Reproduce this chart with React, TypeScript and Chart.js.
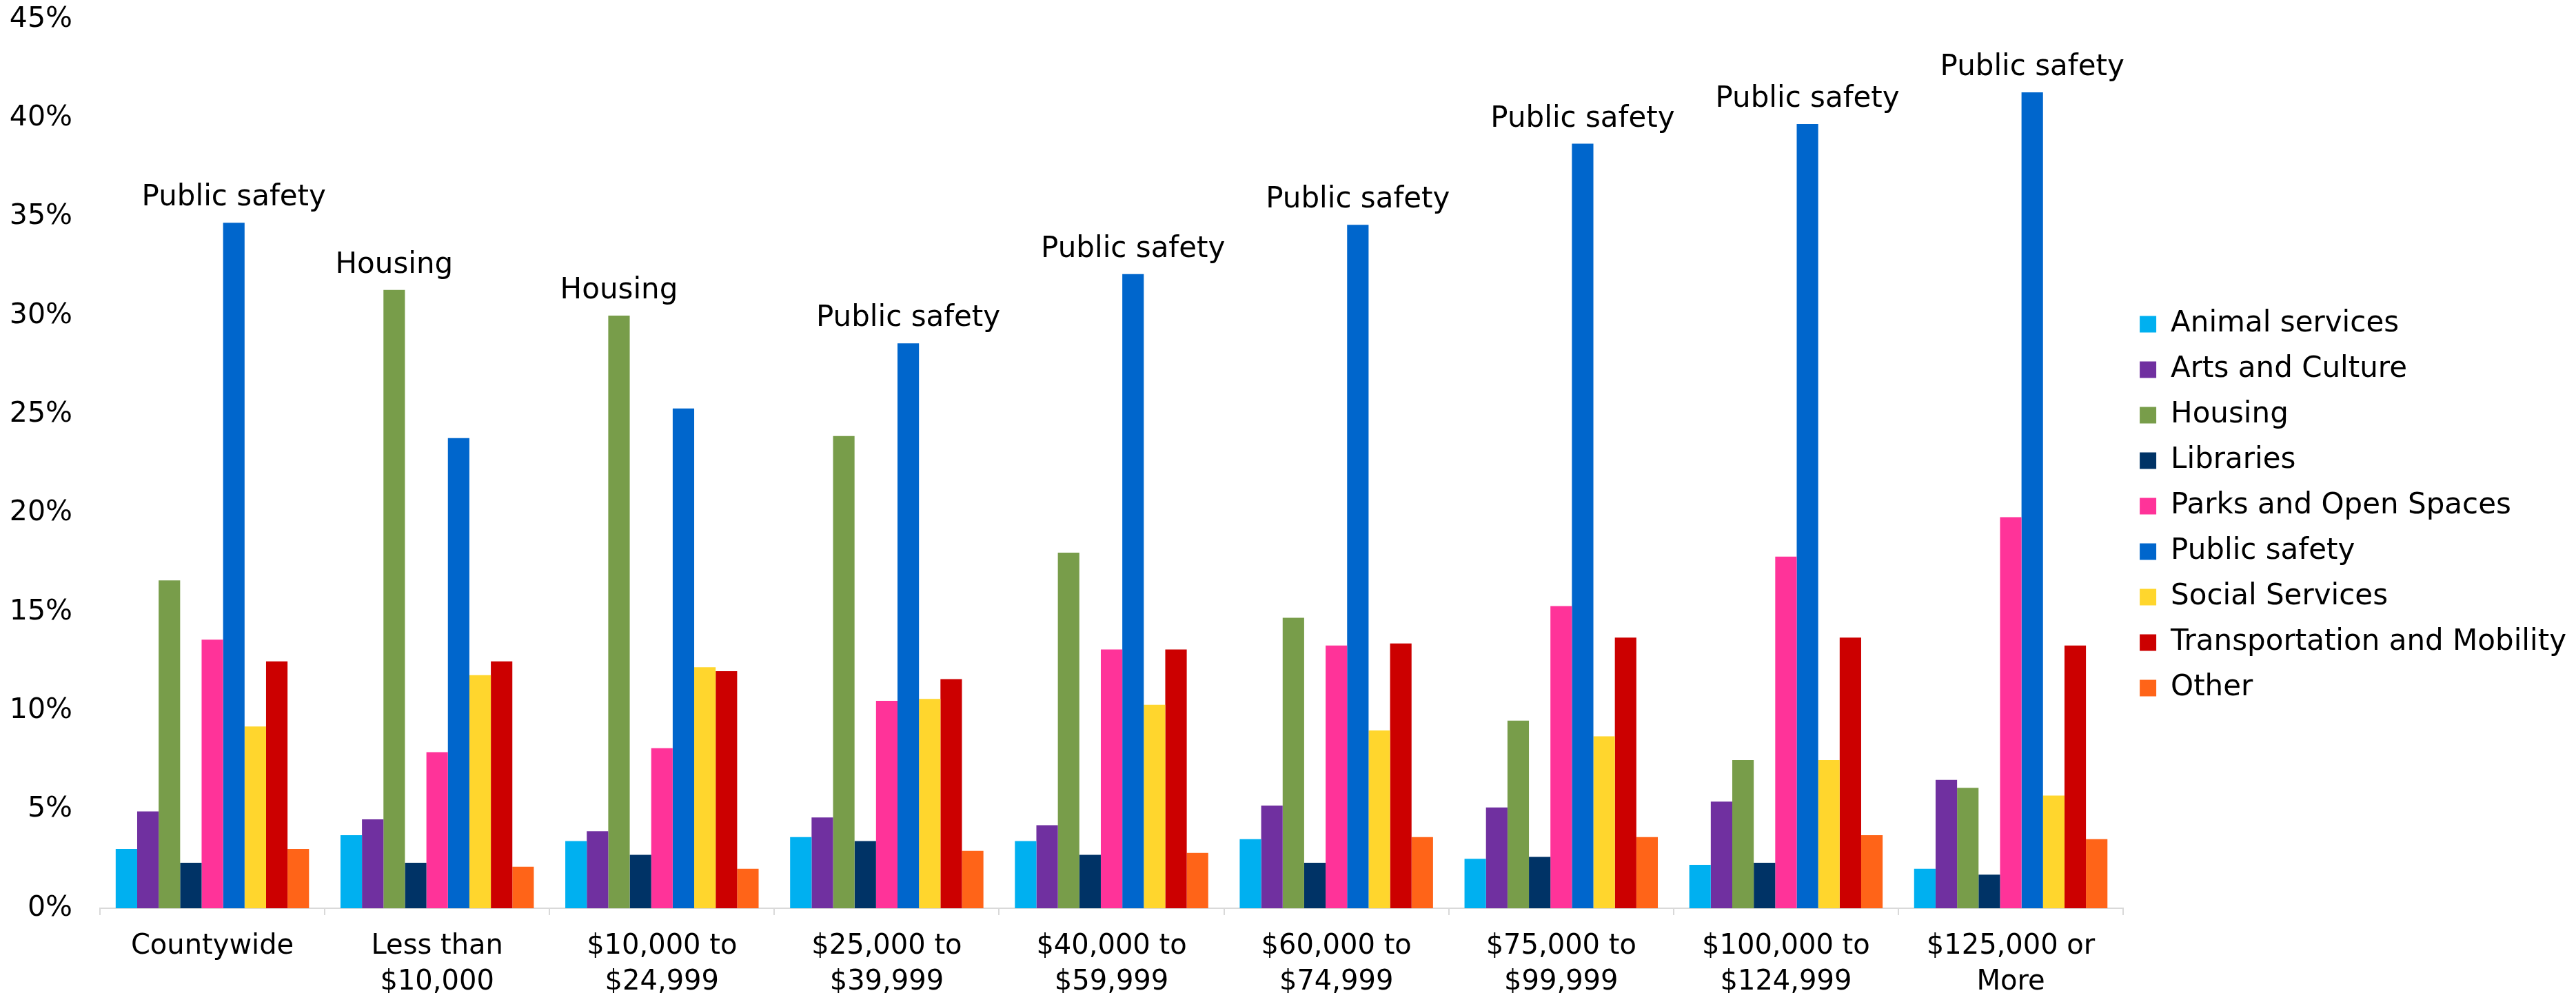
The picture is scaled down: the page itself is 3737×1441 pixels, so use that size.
import React, { useEffect, useRef } from "react";
import { Chart, registerables } from "chart.js";

Chart.register(...registerables);

const categories: string[][] = [
  ["Countywide"],
  ["Less than", "$10,000"],
  ["$10,000 to", "$24,999"],
  ["$25,000 to", "$39,999"],
  ["$40,000 to", "$59,999"],
  ["$60,000 to", "$74,999"],
  ["$75,000 to", "$99,999"],
  ["$100,000 to", "$124,999"],
  ["$125,000 or", "More"],
];

const seriesNames = [
  "Animal services",
  "Arts and Culture",
  "Housing",
  "Libraries",
  "Parks and Open Spaces",
  "Public safety",
  "Social Services",
  "Transportation and Mobility",
  "Other",
];

const animalServices = [3.0, 3.7, 3.4, 3.6, 3.4, 3.5, 2.5, 2.2, 2.0];
const artsAndCulture = [4.9, 4.5, 3.9, 4.6, 4.2, 5.2, 5.1, 5.4, 6.5];
const housing = [16.6, 31.3, 30.0, 23.9, 18.0, 14.7, 9.5, 7.5, 6.1];
const libraries = [2.3, 2.3, 2.7, 3.4, 2.7, 2.3, 2.6, 2.3, 1.7];
const parks = [13.6, 7.9, 8.1, 10.5, 13.1, 13.3, 15.3, 17.8, 19.8];
const publicSafety = [34.7, 23.8, 25.3, 28.6, 32.1, 34.6, 38.7, 39.7, 41.3];
const socialServices = [9.2, 11.8, 12.2, 10.6, 10.3, 9.0, 8.7, 7.5, 5.7];
const transportation = [12.5, 12.5, 12.0, 11.6, 13.1, 13.4, 13.7, 13.7, 13.3];
const other = [3.0, 2.1, 2.0, 2.9, 2.8, 3.6, 3.6, 3.7, 3.5];

const yTicks = [0, 5, 10, 15, 20, 25, 30, 35, 40, 45];

const seriesValues = [
  animalServices,
  artsAndCulture,
  housing,
  libraries,
  parks,
  publicSafety,
  socialServices,
  transportation,
  other,
];

const colors = [
  "#00B0F0",
  "#7030A0",
  "#789D4A",
  "#003366",
  "#FF3399",
  "#0066CC",
  "#FFD62D",
  "#CC0000",
  "#FF6418",
];

const FONT = "'DejaVu Sans', sans-serif";

const topLabelPlugin = {
  id: "topLabel",
  afterDatasetsDraw(chart: any) {
    const ctx = chart.ctx;
    ctx.save();
    ctx.font = `42px ${FONT}`;
    ctx.fillStyle = "#000";
    ctx.textAlign = "center";
    ctx.textBaseline = "middle";
    categories.forEach((_, j) => {
      let best = 0;
      seriesValues.forEach((vals, i) => {
        if (vals[j] > seriesValues[best][j]) best = i;
      });
      const el = chart.getDatasetMeta(best).data[j];
      if (el) ctx.fillText(seriesNames[best], el.x, el.y - 36);
    });
    ctx.restore();
  },
};

export default function App() {
  const ref = useRef<HTMLCanvasElement>(null);
  useEffect(() => {
    if (!ref.current) return;
    const chart = new Chart(ref.current, {
      type: "bar",
      data: {
        labels: categories,
        datasets: seriesNames.map((name, i) => ({
          label: name,
          data: seriesValues[i],
          backgroundColor: colors[i],
          borderWidth: 0,
          categoryPercentage: 0.86,
          barPercentage: 1,
        })),
      },
      options: {
        responsive: false,
        animation: false,
        devicePixelRatio: 1,
        layout: { padding: { top: 28, right: 4, left: 0, bottom: 0 } },
        plugins: {
          tooltip: { enabled: false },
          legend: {
            position: "right",
            align: "center",
            labels: {
              boxWidth: 24,
              boxHeight: 24,
              padding: 24,
              color: "#000",
              font: { size: 42, family: FONT },
            },
          },
        },
        scales: {
          x: {
            grid: {
              display: true,
              drawOnChartArea: false,
              drawTicks: true,
              tickLength: 10,
              color: "#D9D9D9",
              lineWidth: 2,
              offset: true,
            },
            border: { display: true, color: "#D9D9D9", width: 2 },
            ticks: {
              color: "#000",
              font: { size: 40, family: FONT, lineHeight: 1.3 },
              padding: 20,
              maxRotation: 0,
              autoSkip: false,
            },
            afterFit: (s: any) => {
              s.height = 123;
              s.paddingLeft = 0;
              s.paddingRight = 0;
            },
          },
          y: {
            min: 0,
            max: 45,
            grid: { display: false },
            border: { display: false },
            afterBuildTicks: (s: any) => {
              s.ticks = yTicks.map((v) => ({ value: v }));
            },
            ticks: {
              color: "#000",
              font: { size: 41, family: FONT },
              padding: 32,
              callback: (v: any) => `${v}%`,
            },
            afterFit: (s: any) => {
              s.width = 145;
              s.paddingTop = 0;
              s.paddingBottom = 0;
            },
          },
        },
      },
      plugins: [topLabelPlugin],
    });
    return () => chart.destroy();
  }, []);
  return (
    <div style={{ position: "fixed", left: 0, top: 0, width: 3737, height: 1441, background: "#fff" }}>
      <canvas ref={ref} width={3737} height={1441} style={{ width: 3737, height: 1441, display: "block" }} />
    </div>
  );
}
